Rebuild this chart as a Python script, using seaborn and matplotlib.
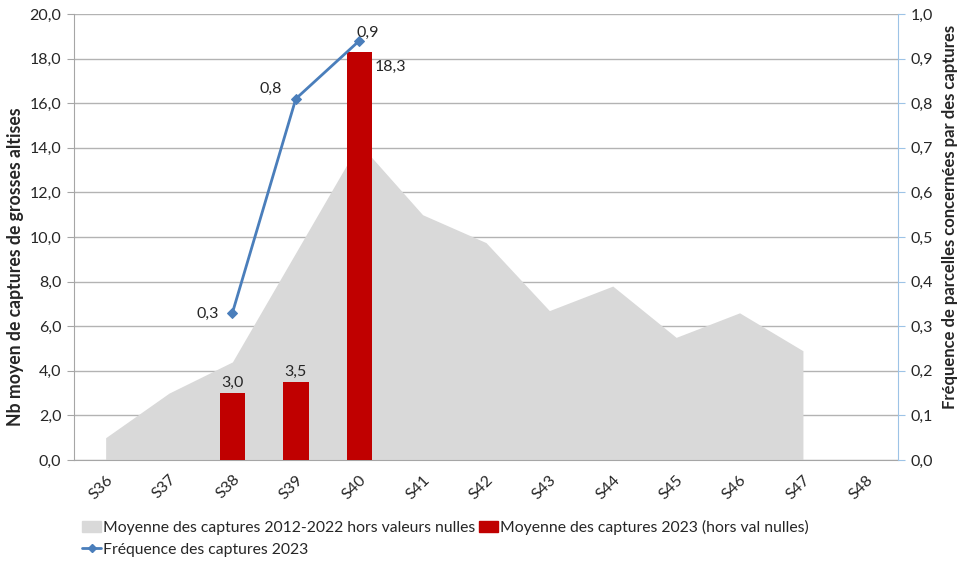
import numpy as np
import pandas as pd
import seaborn as sns
import matplotlib.pyplot as plt
from matplotlib.lines import Line2D
from matplotlib.patches import Patch

semaines = ['S36', 'S37', 'S38', 'S39', 'S40', 'S41', 'S42', 'S43', 'S44', 'S45', 'S46', 'S47', 'S48']
moy_2012_2022 = [1.0, 3.0, 4.4, 9.3, 14.2, 11.0, 9.75, 6.7, 7.8, 5.5, 6.6, 4.9, np.nan]
moy_2023 = [np.nan, np.nan, 3.0, 3.5, 18.3, np.nan, np.nan, np.nan, np.nan, np.nan, np.nan, np.nan, np.nan]
freq_2023 = [np.nan, np.nan, 0.33, 0.81, 0.94, np.nan, np.nan, np.nan, np.nan, np.nan, np.nan, np.nan, np.nan]

gris = '#d9d9d9'
rouge = '#c00000'
bleu = '#4a7ebb'
fs = 11.5

sns.set_style('white')
plt.rcParams['font.family'] = ['Lato', 'DejaVu Sans']
plt.rcParams['font.size'] = fs

df = pd.DataFrame({'Semaine': semaines, 'Hist': moy_2012_2022, 'Moy': moy_2023, 'Freq': freq_2023})
df['pos'] = np.arange(len(semaines))

fig = plt.figure(figsize=(9.58, 5.62), dpi=100)
ax = fig.add_axes([0.0772, 0.1815, 0.8602, 0.7935])

# aire historique
ax.fill_between(df['pos'], df['Hist'], color=gris, lw=0, zorder=1)

# barres 2023
sns.barplot(data=df, x='Semaine', y='Moy', order=semaines, color=rouge, width=0.4,
            saturation=1, linewidth=0, ax=ax, zorder=3)
for p in ax.patches:
    h = p.get_height()
    if np.isnan(h) or h == 0:
        continue
    txt = f'{h:.1f}'.replace('.', ',')
    if h > 15:
        ax.annotate(txt, (p.get_x() + p.get_width(), h), xytext=(2, -6), textcoords='offset points',
                    ha='left', va='top')
    else:
        ax.annotate(txt, (p.get_x() + p.get_width() / 2, h), xytext=(0, 2),
                    textcoords='offset points', ha='center', va='bottom')

ax.set_xlim(-0.5, len(semaines) - 0.5)
ax.set_ylim(0, 20)
ax.set_yticks(np.arange(0, 20.1, 2))
ax.set_yticklabels([f'{v:.1f}'.replace('.', ',') for v in np.arange(0, 20.1, 2)])
ax.yaxis.grid(True, color='#b3b3b3', lw=1)
ax.set_axisbelow(True)
ax.set_xticks(df['pos'])
ax.set_xticklabels(semaines, rotation=45, ha='right', rotation_mode='anchor')
ax.set_xticks(np.arange(-0.5, len(semaines)), minor=True)
ax.tick_params(axis='x', which='major', length=0, pad=9)
ax.tick_params(axis='x', which='minor', length=5, color='#a6a6a6', direction='out')
ax.tick_params(axis='y', length=5, color='#a6a6a6', direction='out', left=True, pad=4)
ax.set_xlabel('')
ax.set_ylabel('Nb moyen de captures de grosses altises', fontweight='bold', fontsize=12.7)
ax.yaxis.set_label_coords(-0.061, 0.433)
for s in ['top', 'right']:
    ax.spines[s].set_visible(False)
for s in ['left', 'bottom']:
    ax.spines[s].set_color('#a6a6a6')

# fréquence sur axe secondaire
ax2 = ax.twinx()
sns.lineplot(data=df, x='pos', y='Freq', color=bleu, marker='D', markersize=5,
             markeredgecolor=bleu, lw=2, ax=ax2)
ax2.set_ylim(0, 1)
ax2.set_yticks(np.arange(0, 1.01, 0.1))
ax2.set_yticklabels([f'{v:.1f}'.replace('.', ',') for v in np.arange(0, 1.01, 0.1)])
ax2.set_ylabel('Fréquence de parcelles concernées par des captures', fontweight='bold', fontsize=12)
ax2.yaxis.set_label_coords(1.053, 0.545)
ax2.tick_params(axis='y', length=5, color='#9dc3e6', direction='out', right=True, pad=4)
for s in ['top', 'left', 'bottom']:
    ax2.spines[s].set_visible(False)
ax2.spines['right'].set_color('#9dc3e6')
ax2.set_xlim(-0.5, len(semaines) - 0.5)
ax2.set_xlabel('')

# décalage des étiquettes de la fréquence
decal = {'S38': (-10, -1), 'S39': (-10, 7), 'S40': (6, 1)}
for sem, i, f in zip(df['Semaine'], df['pos'], df['Freq']):
    if np.isnan(f):
        continue
    txt = f'{f:.1f}'.replace('.', ',')
    dx, dy = decal[sem]
    if dx > 0:
        ax2.annotate(txt, (i, f), xytext=(dx, dy), textcoords='offset points', ha='center', va='bottom')
    else:
        ax2.annotate(txt, (i, f), xytext=(dx, dy), textcoords='offset points', ha='right', va='center')

handles = [Patch(color=gris), Line2D([], [], color=bleu, marker='D', markersize=4, lw=2),
           Patch(color=rouge)]
labels = ['Moyenne des captures 2012-2022 hors valeurs nulles', 'Fréquence des captures 2023',
          'Moyenne des captures 2023 (hors val nulles)']
fig.legend(handles, labels, ncol=2, loc='upper left', bbox_to_anchor=(0.071, 0.1), frameon=False,
           handlelength=1.2, handletextpad=0.15, columnspacing=0.2, labelspacing=0.5, fontsize=11.3)

plt.savefig('out.png', dpi=100)
